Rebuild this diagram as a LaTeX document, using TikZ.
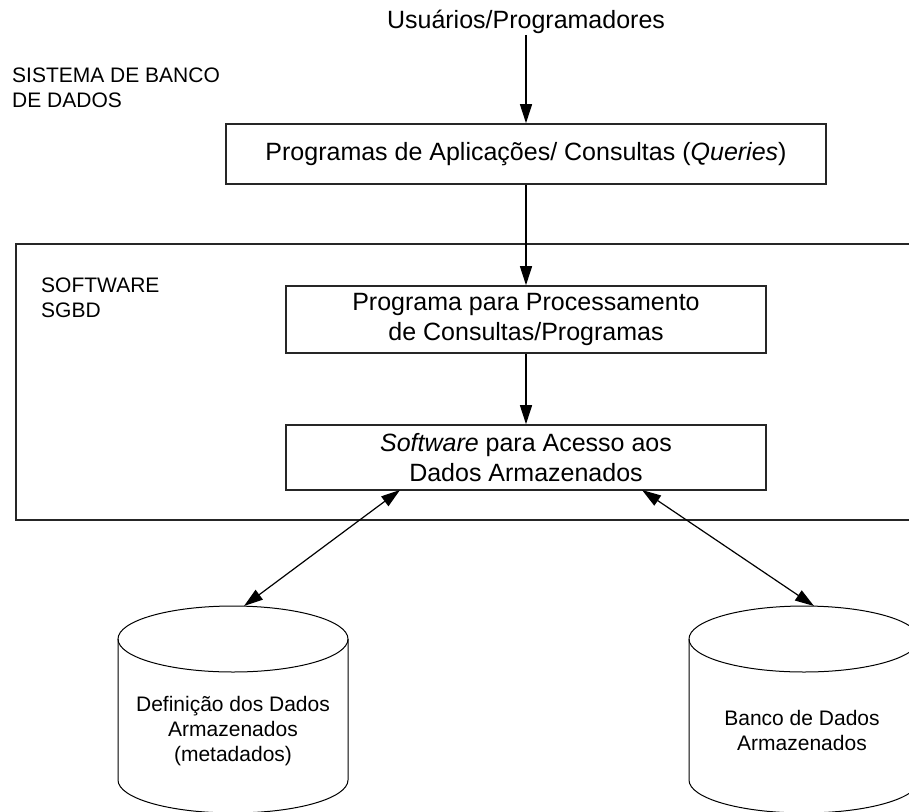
\documentclass[tikz,border=0pt]{standalone}
\usepackage{fontspec}
\setmainfont{Liberation Sans}
\usetikzlibrary{arrows.meta}
\tikzset{
  bigtext/.style={font=\fontsize{25}{30}\selectfont, align=center},
  smalltext/.style={font=\fontsize{21}{25}\selectfont, align=left},
  box/.style={draw=black!85, line width=1.6pt, bigtext, inner sep=0pt},
  arr/.style={line width=1.2pt, -{Triangle[length=19pt,width=12pt]}},
  dblarr/.style={line width=1.2pt, {Triangle[length=19pt,width=12pt]}-{Triangle[length=19pt,width=12pt]}}
}
\begin{document}
\begin{tikzpicture}[x=1pt, y=-1pt]
  \useasboundingbox (0,0) rectangle (909,811);
  \clip (0,0) rectangle (909,811);
  % frame of the DBMS software
  \draw[line width=1.6pt, draw=black!85] (16,244) rectangle (940,520);
  \draw
    (526,22) node[bigtext, inner sep=1pt] (usuarios) {Usuários/Programadores}
    (12,88) node[smalltext, anchor=west, inner sep=0pt] (sistema) {SISTEMA DE BANCO\\DE DADOS}
    (41,297.5) node[smalltext, anchor=west, inner sep=0pt] (sgbd) {SOFTWARE\\SGBD}
    (526,154) node[box, minimum width=600pt, minimum height=60pt] (queries)
      {Programas de Aplicações/ Consultas (\textit{Queries})}
    (526,319.5) node[box, minimum width=480pt, minimum height=67pt] (proc)
      {Programa para Processamento\\de Consultas/Programas}
    (526,457.5) node[box, minimum width=480pt, minimum height=65pt] (acesso)
      {\textit{Software} para Acesso aos\\Dados Armazenados};
  % cylinders
  \draw[line width=1pt] (118,639) -- (118,780)
    arc[start angle=180, end angle=0, x radius=115, y radius=33] -- (348,639);
  \draw[line width=1pt] (233,639) ellipse[x radius=115, y radius=33];
  \draw[line width=1pt] (689,639) -- (689,780)
    arc[start angle=180, end angle=0, x radius=115, y radius=33] -- (919,639);
  \draw[line width=1pt] (804,639) ellipse[x radius=115, y radius=33];
  \draw
    (233,731) node[smalltext, align=center] (meta)
      {Definição dos Dados\\Armazenados\\(metadados)}
    (802,730.5) node[smalltext, align=center] (banco)
      {Banco de Dados\\Armazenados};
  \coordinate (acessoL) at (400,490);
  \coordinate (acessoR) at (642,490);
  \coordinate (metatop) at (244,606);
  \coordinate (bancotop) at (814,606);
  \begin{scope}
    \draw[arr] (usuarios) -- (queries);
    \draw[arr] (queries) -- (proc);
    \draw[arr] (proc) -- (acesso);
    \draw[dblarr] (acessoL) -- (metatop);
    \draw[dblarr] (acessoR) -- (bancotop);
  \end{scope}
\end{tikzpicture}
\end{document}
